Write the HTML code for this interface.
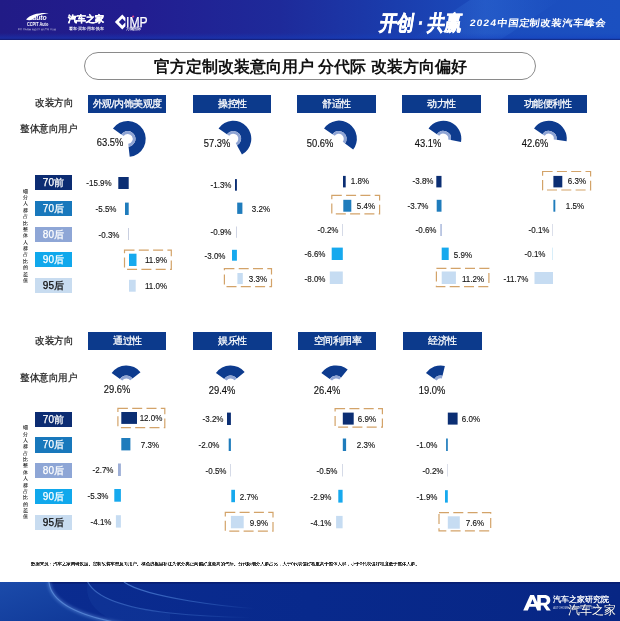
<!DOCTYPE html>
<html lang="zh"><head><meta charset="utf-8"><title>官方定制改装意向用户 分代际 改装方向偏好</title>
<style>
html,body{margin:0;padding:0;background:#fff}
body{width:620px;height:621px;position:relative;overflow:hidden;font-family:"Liberation Sans",sans-serif;color:#1a1a1a}
div{position:absolute;white-space:nowrap;line-height:1}
#hd{left:0;top:0;width:620px;height:40.4px;background:linear-gradient(90deg,#211b86 0%,#221d90 22%,#1e2a9a 45%,#1a3cac 63%,#1b4dbe 80%,#1b50c0 100%);overflow:hidden}
#hd svg{position:absolute;left:0;top:0}
#ft{left:0;top:581.6px;width:620px;height:40px;background:linear-gradient(90deg,#0b2c90 0%,#08298c 50%,#072684 100%);overflow:hidden}
#pill{left:84px;top:52.1px;width:449.5px;height:26.4px;text-indent:1.5px;border:1px solid #8a8a8a;border-radius:14px;background:#fff;text-align:center;font-size:16px;font-weight:bold;line-height:27.1px;color:#111}
.v{width:40px;height:12px;line-height:12px;text-align:center;font-size:9px;color:#161616;transform:scaleX(.89);-webkit-text-stroke:.15px #161616}
.p{width:40px;height:14px;line-height:14px;text-align:center;font-size:10.2px;color:#111;transform:scaleX(.92);-webkit-text-stroke:.15px #111}
.h{height:17.7px;background:#0c3a8c;color:#fff}.h i{display:block;position:absolute;left:0;top:0;width:200%;height:200%;transform:scale(.5);transform-origin:0 0;font-style:normal;font-size:19px;line-height:35.4px;text-align:center;-webkit-text-stroke:.55px #fff}
.g{left:34.8px;width:37.2px;height:15.2px;line-height:15.2px;font-size:10px;text-align:center;-webkit-text-stroke:.25px}
.vt{left:22.8px;width:6px;font-size:5.4px;color:#111;text-align:center;-webkit-text-stroke:.08px #111}.vt b{display:block;font-weight:normal;height:6.39px;line-height:6.39px;overflow:visible}
.s{font-size:18.5px;line-height:24px;color:#1c1c1c;transform:scale(.5,.525);transform-origin:0 0;-webkit-text-stroke:.45px #1c1c1c}
#fn{left:30.5px;top:552px;font-size:17px;line-height:24px;color:#222;transform-origin:0 50%;transform:scale(.2594,.255);-webkit-text-stroke:.7px #222}
#main{position:absolute;left:0;top:0}
.w{color:#fff}
#wrap{left:0;top:0;width:620px;height:621px;will-change:transform}
</style></head><body>
<div id="wrap">
<div id="hd">
<svg width="620" height="41" viewBox="0 0 620 41">
<defs><linearGradient id="hb" x1="0" y1="0" x2="0" y2="1"><stop offset="0" stop-color="#1440c0" stop-opacity="0"/><stop offset=".7" stop-color="#1440c0" stop-opacity=".45"/><stop offset=".84" stop-color="#10207a" stop-opacity=".6"/><stop offset="1" stop-color="#0e1a6c" stop-opacity=".9"/></linearGradient><linearGradient id="sh" x1="0" y1="0" x2="1" y2="0"><stop offset="0" stop-color="#3a7be0" stop-opacity="0"/><stop offset=".5" stop-color="#3a7be0" stop-opacity=".3"/><stop offset="1" stop-color="#3a7be0" stop-opacity="0"/></linearGradient></defs>
<polygon points="470,0 560,0 500,40 410,40" fill="url(#sh)"/>
<rect x="0" y="33" width="620" height="7.4" fill="url(#hb)"/>
<!-- CCPIT arc logo -->
<path d="M26 19.6C30.5 14.2 40.5 12.4 48.8 13.3C42.5 13.9 36 15.6 32.2 19.8C30.5 20.4 27.5 20.4 26 19.6Z" fill="#fff"/>
<!-- CIMP diamond -->
<path d="M122.3 14.55L125.4 17.65L125.4 21.7L122.3 18.6L118.9 22L122.3 25.4L125.4 22.3L125.4 26.35L122.3 29.45L114.85 22Z" fill="#fff"/>
<path d="M133.1 15.2L134.3 16.5L133.1 17.8L131.9 16.5Z" fill="#e64a86"/>
</svg>
<div class="w" style="left:32.6px;top:15px;font-size:6.8px;font-weight:bold;font-style:italic;letter-spacing:-.1px">auto</div>
<div class="w" style="left:26.9px;top:22.2px;font-size:5px;font-weight:bold;transform-origin:0 50%;transform:scaleX(.77)">CCPIT Auto</div>
<div class="w" style="left:18px;top:24.7px;font-size:9px;line-height:9px;transform-origin:0 50%;transform:scale(.25);opacity:.85">中国国际贸易促进委员会汽车行业分会</div>
<div class="w" style="left:68.4px;top:15px;font-size:8.9px;font-weight:900;-webkit-text-stroke:.35px #fff">汽车之家</div>
<div class="w" style="left:68.6px;top:22.5px;font-size:12px;line-height:12px;font-weight:bold;transform-origin:0 50%;transform:scale(.322);opacity:.9">看车·买车·用车·换车</div>
<div class="w" style="left:126px;top:15.4px;font-size:14px;line-height:14px;transform-origin:0 50%;transform:scaleX(.87);-webkit-text-stroke:.25px #fff">IMP</div>
<div class="w" style="left:126px;top:22.8px;font-size:12px;line-height:12px;font-weight:bold;transform-origin:0 50%;transform:scale(.305);opacity:.9">万耀国际</div>
<div class="w" style="left:379.5px;top:11.5px;font-size:21px;font-weight:bold;transform-origin:0 50%;transform:skewX(-9deg) scaleX(.815);letter-spacing:-.1px;-webkit-text-stroke:.5px #fff">开创<span style="display:inline-block;width:17px;text-align:center">·</span>共赢</div>
<div class="w" style="left:470px;top:17.6px;font-size:9.4px;font-weight:bold;transform-origin:0 50%;transform:skewX(-8deg) scaleX(1.1);letter-spacing:.95px">2024中国定制改装汽车峰会</div>
</div>
<div id="pill">官方定制改装意向用户 分代际 改装方向偏好</div>
<svg id="main" width="620" height="621" viewBox="0 0 620 621">
<path d="M112.96 128.58A18 18 0 1 1 129.71 156.79L128.57 146.65A7.8 7.8 0 1 0 121.31 134.43Z" fill="#0d3b8e"/><path d="M121.31 134.43A7.8 7.8 0 1 1 128.57 146.65L128.26 143.87A5.0 5.0 0 1 0 123.60 136.03Z" fill="#8ea4d4"/>
<path d="M218.56 128.38A18 18 0 1 1 241.95 154.49L237.05 145.54A7.8 7.8 0 1 0 226.91 134.23Z" fill="#0d3b8e"/><path d="M226.91 134.23A7.8 7.8 0 1 1 237.05 145.54L235.70 143.08A5.0 5.0 0 1 0 229.20 135.83Z" fill="#8ea4d4"/>
<path d="M324.06 128.38A18 18 0 1 1 353.15 149.57L345.02 143.41A7.8 7.8 0 1 0 332.41 134.23Z" fill="#0d3b8e"/><path d="M332.41 134.23A7.8 7.8 0 1 1 345.02 143.41L342.78 141.72A5.0 5.0 0 1 0 334.70 135.83Z" fill="#8ea4d4"/>
<path d="M428.56 128.38A18 18 0 0 1 461.02 141.88L450.98 140.08A7.8 7.8 0 0 0 436.91 134.23Z" fill="#0d3b8e"/><path d="M436.91 134.23A7.8 7.8 0 0 1 450.98 140.08L448.22 139.58A5.0 5.0 0 0 0 439.20 135.83Z" fill="#8ea4d4"/>
<path d="M534.06 128.38A18 18 0 0 1 566.61 141.32L556.52 139.83A7.8 7.8 0 0 0 542.41 134.23Z" fill="#0d3b8e"/><path d="M542.41 134.23A7.8 7.8 0 0 1 556.52 139.83L553.75 139.43A5.0 5.0 0 0 0 544.70 135.83Z" fill="#8ea4d4"/>
<path d="M111.66 373.08A18 18 0 0 1 140.50 372.21L132.51 378.55A7.8 7.8 0 0 0 120.01 378.93Z" fill="#0d3b8e"/><path d="M120.01 378.93A7.8 7.8 0 0 1 132.51 378.55L130.32 380.29A5.0 5.0 0 0 0 122.30 380.53Z" fill="#8ea4d4"/>
<path d="M215.96 373.08A18 18 0 0 1 244.66 372.03L236.75 378.47A7.8 7.8 0 0 0 224.31 378.93Z" fill="#0d3b8e"/><path d="M224.31 378.93A7.8 7.8 0 0 1 236.75 378.47L234.58 380.24A5.0 5.0 0 0 0 226.60 380.53Z" fill="#8ea4d4"/>
<path d="M321.36 373.08A18 18 0 0 1 347.68 369.62L341.12 377.43A7.8 7.8 0 0 0 329.71 378.93Z" fill="#0d3b8e"/><path d="M329.71 378.93A7.8 7.8 0 0 1 341.12 377.43L339.32 379.57A5.0 5.0 0 0 0 332.00 380.53Z" fill="#8ea4d4"/>
<path d="M425.96 373.08A18 18 0 0 1 444.87 365.89L442.51 375.81A7.8 7.8 0 0 0 434.31 378.93Z" fill="#0d3b8e"/><path d="M434.31 378.93A7.8 7.8 0 0 1 442.51 375.81L441.86 378.54A5.0 5.0 0 0 0 436.60 380.53Z" fill="#8ea4d4"/>
<rect x="118.3" y="177.0" width="10.4" height="12.0" fill="#0b2e73"/>
<rect x="125.0" y="202.6" width="3.7" height="12.4" fill="#1f7cbc"/>
<rect x="128.0" y="228.0" width="0.9" height="12.0" fill="#c3cadd"/>
<rect x="129.0" y="253.7" width="7.5" height="12.3" fill="#16a9ee"/>
<rect x="129.0" y="279.8" width="6.7" height="11.9" fill="#c6dcf2"/>
<rect x="124.5" y="250.2" width="46.8" height="19.1" fill="none" stroke="#d3a369" stroke-width="1.2" stroke-dasharray="10 4.3"/>
<rect x="235.0" y="179.1" width="1.9" height="11.6" fill="#0b2e73"/>
<rect x="237.2" y="202.6" width="5.2" height="11.3" fill="#1f7cbc"/>
<rect x="236.2" y="226.5" width="0.8" height="11.3" fill="#c3cadd"/>
<rect x="232.0" y="249.8" width="4.9" height="10.9" fill="#16a9ee"/>
<rect x="237.4" y="273.0" width="5.4" height="11.1" fill="#c6dcf2"/>
<rect x="224.4" y="268.7" width="47.1" height="18.0" fill="none" stroke="#d3a369" stroke-width="1.2" stroke-dasharray="10 4.3"/>
<rect x="343.0" y="175.9" width="2.7" height="11.5" fill="#0b2e73"/>
<rect x="343.3" y="199.8" width="8.0" height="11.9" fill="#1f7cbc"/>
<rect x="342.3" y="224.0" width="0.7" height="12.0" fill="#c3cadd"/>
<rect x="331.7" y="247.6" width="11.1" height="12.4" fill="#16a9ee"/>
<rect x="329.8" y="271.5" width="13.0" height="12.5" fill="#c6dcf2"/>
<rect x="331.8" y="195.4" width="47.8" height="18.5" fill="none" stroke="#d3a369" stroke-width="1.2" stroke-dasharray="10 4.3"/>
<rect x="436.3" y="175.9" width="5.2" height="11.5" fill="#0b2e73"/>
<rect x="436.7" y="199.8" width="4.8" height="11.9" fill="#1f7cbc"/>
<rect x="440.4" y="224.0" width="1.3" height="12.0" fill="#9daed6"/>
<rect x="441.7" y="247.6" width="7.0" height="12.4" fill="#16a9ee"/>
<rect x="441.7" y="271.5" width="14.2" height="12.5" fill="#c6dcf2"/>
<rect x="436.4" y="268.3" width="52.5" height="18.4" fill="none" stroke="#d3a369" stroke-width="1.2" stroke-dasharray="10 4.3"/>
<rect x="553.4" y="175.9" width="8.9" height="11.5" fill="#0b2e73"/>
<rect x="553.4" y="199.8" width="1.9" height="11.9" fill="#1f7cbc"/>
<rect x="552.4" y="224.0" width="0.6" height="12.0" fill="#c3cadd"/>
<rect x="552.4" y="247.6" width="0.6" height="12.4" fill="#bfe3f6"/>
<rect x="534.5" y="272.0" width="18.5" height="12.0" fill="#c6dcf2"/>
<rect x="542.6" y="171.5" width="48.0" height="18.5" fill="none" stroke="#d3a369" stroke-width="1.2" stroke-dasharray="10 4.3"/>
<rect x="121.3" y="412.0" width="15.7" height="11.9" fill="#0b2e73"/>
<rect x="121.3" y="438.0" width="9.1" height="12.4" fill="#1f7cbc"/>
<rect x="118.0" y="463.5" width="2.9" height="12.5" fill="#9daed6"/>
<rect x="114.3" y="489.0" width="6.6" height="12.7" fill="#16a9ee"/>
<rect x="115.9" y="515.2" width="5.0" height="12.4" fill="#c6dcf2"/>
<rect x="117.9" y="408.3" width="46.9" height="19.3" fill="none" stroke="#d3a369" stroke-width="1.2" stroke-dasharray="10 4.3"/>
<rect x="227.0" y="412.6" width="3.9" height="12.4" fill="#0b2e73"/>
<rect x="228.7" y="438.5" width="2.2" height="12.5" fill="#1f7cbc"/>
<rect x="230.2" y="464.0" width="0.7" height="12.5" fill="#c3cadd"/>
<rect x="231.3" y="489.8" width="3.7" height="12.4" fill="#16a9ee"/>
<rect x="230.9" y="515.9" width="12.8" height="12.4" fill="#c6dcf2"/>
<rect x="225.3" y="512.4" width="47.7" height="18.7" fill="none" stroke="#d3a369" stroke-width="1.2" stroke-dasharray="10 4.3"/>
<rect x="342.8" y="412.6" width="10.9" height="12.0" fill="#0b2e73"/>
<rect x="342.8" y="438.5" width="3.3" height="12.5" fill="#1f7cbc"/>
<rect x="342.1" y="464.0" width="0.7" height="12.5" fill="#c3cadd"/>
<rect x="338.3" y="489.8" width="4.3" height="12.8" fill="#16a9ee"/>
<rect x="336.1" y="515.9" width="6.5" height="12.4" fill="#c6dcf2"/>
<rect x="335.1" y="408.7" width="47.3" height="18.5" fill="none" stroke="#d3a369" stroke-width="1.2" stroke-dasharray="10 4.3"/>
<rect x="447.8" y="412.6" width="9.8" height="12.0" fill="#0b2e73"/>
<rect x="446.1" y="438.5" width="1.7" height="12.5" fill="#1f7cbc"/>
<rect x="447.4" y="464.0" width="0.6" height="12.5" fill="#c3cadd"/>
<rect x="445.0" y="490.2" width="2.8" height="12.4" fill="#16a9ee"/>
<rect x="447.8" y="516.3" width="12.0" height="12.4" fill="#c6dcf2"/>
<rect x="439.0" y="512.6" width="51.7" height="18.3" fill="none" stroke="#d3a369" stroke-width="1.2" stroke-dasharray="10 4.3"/>
</svg>
<div class="v" style="left:79.2px;top:176.6px">-15.9%</div>
<div class="v" style="left:85.8px;top:203.0px">-5.5%</div>
<div class="v" style="left:89.4px;top:228.6px">-0.3%</div>
<div class="v" style="left:135.8px;top:254.0px">11.9%</div>
<div class="v" style="left:135.6px;top:279.7px">11.0%</div>
<div class="v" style="left:201.0px;top:179.0px">-1.3%</div>
<div class="v" style="left:241.1px;top:202.9px">3.2%</div>
<div class="v" style="left:201.0px;top:226.4px">-0.9%</div>
<div class="v" style="left:195.0px;top:249.7px">-3.0%</div>
<div class="v" style="left:237.7px;top:272.9px">3.3%</div>
<div class="v" style="left:340.1px;top:175.3px">1.8%</div>
<div class="v" style="left:346.1px;top:199.9px">5.4%</div>
<div class="v" style="left:307.5px;top:224.2px">-0.2%</div>
<div class="v" style="left:295.0px;top:248.1px">-6.6%</div>
<div class="v" style="left:295.0px;top:272.5px">-8.0%</div>
<div class="v" style="left:402.7px;top:175.3px">-3.8%</div>
<div class="v" style="left:397.5px;top:199.9px">-3.7%</div>
<div class="v" style="left:406.0px;top:224.2px">-0.6%</div>
<div class="v" style="left:443.0px;top:248.5px">5.9%</div>
<div class="v" style="left:453.1px;top:272.5px">11.2%</div>
<div class="v" style="left:556.9px;top:175.3px">6.3%</div>
<div class="v" style="left:554.8px;top:199.9px">1.5%</div>
<div class="v" style="left:518.5px;top:224.2px">-0.1%</div>
<div class="v" style="left:515.0px;top:248.1px">-0.1%</div>
<div class="v" style="left:496.1px;top:272.5px">-11.7%</div>
<div class="v" style="left:131.0px;top:411.6px">12.0%</div>
<div class="v" style="left:129.8px;top:438.6px">7.3%</div>
<div class="v" style="left:82.9px;top:464.2px">-2.7%</div>
<div class="v" style="left:77.9px;top:489.7px">-5.3%</div>
<div class="v" style="left:81.2px;top:515.7px">-4.1%</div>
<div class="v" style="left:193.3px;top:412.5px">-3.2%</div>
<div class="v" style="left:189.2px;top:439.2px">-2.0%</div>
<div class="v" style="left:195.6px;top:464.7px">-0.5%</div>
<div class="v" style="left:228.7px;top:490.7px">2.7%</div>
<div class="v" style="left:238.7px;top:516.8px">9.9%</div>
<div class="v" style="left:346.6px;top:412.5px">6.9%</div>
<div class="v" style="left:345.5px;top:439.2px">2.3%</div>
<div class="v" style="left:306.9px;top:464.7px">-0.5%</div>
<div class="v" style="left:301.0px;top:490.7px">-2.9%</div>
<div class="v" style="left:301.2px;top:516.8px">-4.1%</div>
<div class="v" style="left:451.3px;top:412.5px">6.0%</div>
<div class="v" style="left:407.0px;top:439.2px">-1.0%</div>
<div class="v" style="left:412.5px;top:464.7px">-0.2%</div>
<div class="v" style="left:406.6px;top:490.7px">-1.9%</div>
<div class="v" style="left:455.1px;top:516.8px">7.6%</div>
<div class="p" style="left:90.1px;top:136.4px">63.5%</div>
<div class="p" style="left:197.4px;top:136.9px">57.3%</div>
<div class="p" style="left:300.1px;top:136.9px">50.6%</div>
<div class="p" style="left:407.9px;top:136.9px">43.1%</div>
<div class="p" style="left:515.0px;top:136.9px">42.6%</div>
<div class="p" style="left:96.6px;top:383.3px">29.6%</div>
<div class="p" style="left:201.8px;top:383.6px">29.4%</div>
<div class="p" style="left:306.6px;top:383.6px">26.4%</div>
<div class="p" style="left:411.6px;top:383.6px">19.0%</div>
<div class="h" style="left:87.5px;top:95.3px;width:78.5px"><i>外观/内饰美观度</i></div>
<div class="h" style="left:192.5px;top:95.3px;width:78.5px"><i>操控性</i></div>
<div class="h" style="left:297px;top:95.3px;width:79px"><i>舒适性</i></div>
<div class="h" style="left:402px;top:95.3px;width:79px"><i>动力性</i></div>
<div class="h" style="left:507.5px;top:95.3px;width:79.0px"><i>功能便利性</i></div>
<div class="h" style="left:87.5px;top:332.4px;width:78.5px"><i>通过性</i></div>
<div class="h" style="left:193px;top:332.4px;width:78.5px"><i>娱乐性</i></div>
<div class="h" style="left:297.5px;top:332.4px;width:78.5px"><i>空间利用率</i></div>
<div class="h" style="left:403px;top:332.4px;width:79px"><i>经济性</i></div>
<div class="g" style="top:175.0px;background:#0c2c72;color:#fff">70前</div>
<div class="g" style="top:200.8px;background:#1878bc;color:#fff">70后</div>
<div class="g" style="top:226.5px;background:#8ea6d6;color:#fff">80后</div>
<div class="g" style="top:252.2px;background:#10a8ec;color:#fff">90后</div>
<div class="g" style="top:278.0px;background:#c8dcf0;color:#0c0c0c">95后</div>
<div class="g" style="top:411.6px;background:#0c2c72;color:#fff">70前</div>
<div class="g" style="top:437.4px;background:#1878bc;color:#fff">70后</div>
<div class="g" style="top:463.1px;background:#8ea6d6;color:#fff">80后</div>
<div class="g" style="top:488.9px;background:#10a8ec;color:#fff">90后</div>
<div class="g" style="top:514.6px;background:#c8dcf0;color:#0c0c0c">95后</div>
<div class="vt" style="top:187.7px"><b>细</b><b>分</b><b>人</b><b>群</b><b>占</b><b>比</b><b>整</b><b>体</b><b>人</b><b>群</b><b>占</b><b>比</b><b>的</b><b>差</b><b>值</b></div>
<div class="vt" style="top:424.2px"><b>细</b><b>分</b><b>人</b><b>群</b><b>占</b><b>比</b><b>整</b><b>体</b><b>人</b><b>群</b><b>占</b><b>比</b><b>的</b><b>差</b><b>值</b></div>
<div class="s" style="left:34.8px;top:97.4px">改装方向</div>
<div class="s" style="left:20px;top:122.9px">整体意向用户</div>
<div class="s" style="left:34.8px;top:334.9px">改装方向</div>
<div class="s" style="left:20px;top:372.4px">整体意向用户</div>
<div id="fn">数据来源：汽车之家调研数据。定制改装车型意向用户。橘色线框里标注为该分类正向偏好度最高的代际。分代际细分人群占比，大于0代表偏好程度高于整体人群，小于0代表偏好程度低于整体人群。</div>
<div id="ft">
<svg width="620" height="40" viewBox="0 0 620 40" style="position:absolute;left:0;top:0">
<defs>
<linearGradient id="fl" x1="0" y1="0" x2="1" y2="1"><stop offset="0" stop-color="#1b4baa"/><stop offset="1" stop-color="#0d3494"/></linearGradient>
<linearGradient id="a3" x1="0" y1="0" x2="1" y2="0"><stop offset="0" stop-color="#5f93e4" stop-opacity=".7"/><stop offset=".6" stop-color="#4a80d8" stop-opacity=".45"/><stop offset="1" stop-color="#4a80d8" stop-opacity="0"/></linearGradient>
<linearGradient id="a2" x1="0" y1="0" x2="1" y2="0"><stop offset="0" stop-color="#5f93e4" stop-opacity=".6"/><stop offset=".7" stop-color="#4a80d8" stop-opacity=".3"/><stop offset="1" stop-color="#4a80d8" stop-opacity="0"/></linearGradient>
<filter id="bl" x="-20%" y="-20%" width="140%" height="140%"><feGaussianBlur stdDeviation="1.6"/></filter>
</defs>
<rect width="620" height="1.6" fill="#071c6c" opacity=".8"/>
<path d="M0 0H49C51 20 78 34 124 42L0 42Z" fill="url(#fl)"/>
<path d="M49 0C51 20 78 34 124 42" fill="none" stroke="#6fa0ea" stroke-width="3.2" opacity=".45" filter="url(#bl)"/>
<path d="M49 0C51 20 78 34 124 42" fill="none" stroke="#6a9ce8" stroke-width="1.2" opacity=".6"/>
<path d="M87.7 0C96 16 124 26 170 31C200 34 225 35 250 35.5" fill="none" stroke="url(#a2)" stroke-width="1.2"/>
<path d="M87.7 0C96 16 124 26 170 31L170 42L124 42C96 34 84 18 87.7 0Z" fill="#1a48a8" opacity=".25"/>
<path d="M124 0C135 8 160 14 190 19C215 23 235 25.5 255 26.5" fill="none" stroke="url(#a3)" stroke-width="1.2"/>
<!-- AR logo -->
<path d="M523.2 28.5L530.2 13H534L537.2 20.2V13H544.5C548.6 13 550.3 15.4 550.3 18.2C550.3 20.6 549 22.3 546.8 23L550.8 28.5H546.6L543.2 23.6H540.8V28.5H537.2V28.5L535.6 24.8H529.4L527.8 28.5ZM530.6 21.9H534.4L532.5 17.2ZM540.8 16V20.8H544C545.8 20.8 546.7 19.8 546.7 18.4C546.7 17 545.8 16 544 16Z" fill="#fff" fill-rule="evenodd"/>
</svg>
<div class="w" style="left:553px;top:14px;font-size:8px;font-weight:bold">汽车之家研究院</div>
<div class="w" style="left:553.2px;top:26.2px;font-size:2.6px;letter-spacing:.1px;opacity:.8">AUTOHOME RESEARCH INSTITUTE</div>
<div class="w" style="left:568px;top:22.8px;font-size:12px;font-weight:300;text-shadow:0 0 1px rgba(0,0,0,.6)">汽车之家</div>
</div>
</div>
</body></html>
